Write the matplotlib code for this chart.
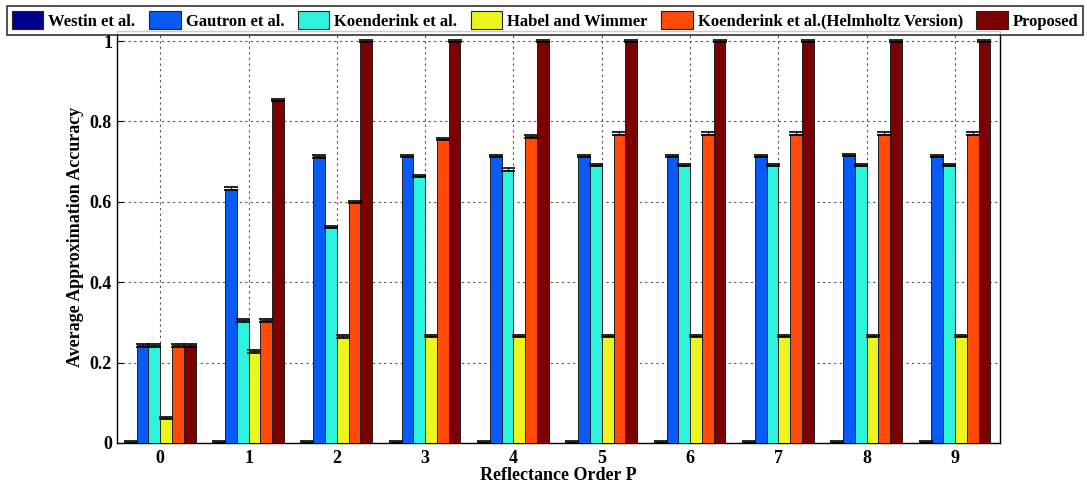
import numpy as np
import matplotlib
matplotlib.use('Agg')
import matplotlib.pyplot as plt
from matplotlib.patches import Patch

orders = [0, 1, 2, 3, 4, 5, 6, 7, 8, 9]
methods = ['Westin et al.', 'Gautron et al.', 'Koenderink et al.', 'Habel and Wimmer',
           'Koenderink et al.(Helmholtz Version)', 'Proposed']

westin = [0.002, 0.002, 0.002, 0.002, 0.002, 0.002, 0.002, 0.002, 0.003, 0.003]
gautron = [0.243, 0.633, 0.713, 0.714, 0.714, 0.714, 0.714, 0.714, 0.716, 0.714]
koenderink = [0.243, 0.305, 0.538, 0.665, 0.680, 0.692, 0.692, 0.692, 0.692, 0.692]
habel = [0.062, 0.228, 0.265, 0.266, 0.266, 0.266, 0.266, 0.266, 0.266, 0.266]
helmholtz = [0.243, 0.305, 0.599, 0.757, 0.763, 0.770, 0.770, 0.770, 0.770, 0.770]
proposed = [0.243, 0.853, 1.0, 1.0, 1.0, 1.0, 1.0, 1.0, 1.0, 1.0]
series = [westin, gautron, koenderink, habel, helmholtz, proposed]

plt.rcParams['font.family'] = ['Liberation Serif', 'DejaVu Serif']
plt.rcParams['font.weight'] = 'bold'

colors = ['#00008C', '#0A5AF5', '#2EF2DC', '#EEF51E', '#FF4A0A', '#7D0000']

fig = plt.figure(figsize=(10.87, 4.91), dpi=100)
ax = fig.add_axes([0.1076, 0.0978, 0.8124, 0.839])

x = np.arange(len(orders))
w = 0.8 / 6
for i, (vals, c) in enumerate(zip(series, colors)):
    pos = x - 0.4 + w * (i + 0.5)
    ax.bar(pos, vals, width=w, color=c, edgecolor='#222222', linewidth=0.7, zorder=3)
    ax.errorbar(pos, vals, yerr=0.003, fmt='none', ecolor='k', elinewidth=0.8,
                capsize=5, capthick=1.2, zorder=4)

ax.set_xlim(-0.49, 9.51)
ax.set_ylim(0, 1.025)
ax.set_xticks(x)
ax.set_xticklabels([str(o) for o in orders])
ax.set_yticks([0, 0.2, 0.4, 0.6, 0.8, 1.0])
ax.set_yticklabels(['0', '0.2', '0.4', '0.6', '0.8', '1'])
ax.tick_params(direction='in', labelsize=13, length=4)
ax.tick_params(axis='x', pad=5)
ax.grid(True, linestyle=(0, (2, 3)), color='#555555', linewidth=0.8, zorder=0)
ax.set_axisbelow(True)
ax.set_xlabel('Reflectance Order P', fontsize=13, fontweight='bold', labelpad=0)
ax.set_ylabel('Average Approximation Accuracy', fontsize=13, fontweight='bold')
for s in ax.spines.values():
    s.set_linewidth(1.0)

handles = [Patch(facecolor=c, edgecolor='#222222', linewidth=0.8) for c in colors]
leg = fig.legend(handles, methods, loc='upper center', bbox_to_anchor=(0.5015, 0.988),
                 ncol=6, fontsize=12, frameon=True, fancybox=False, edgecolor='k',
                 handlelength=1.9, handleheight=1.3, handletextpad=0.3, columnspacing=0.8,
                 borderpad=0.3, borderaxespad=0)
leg.get_frame().set_linewidth(1.2)
for t in leg.get_texts():
    t.set_fontweight('bold')

fig.savefig('out.png', dpi=100)
